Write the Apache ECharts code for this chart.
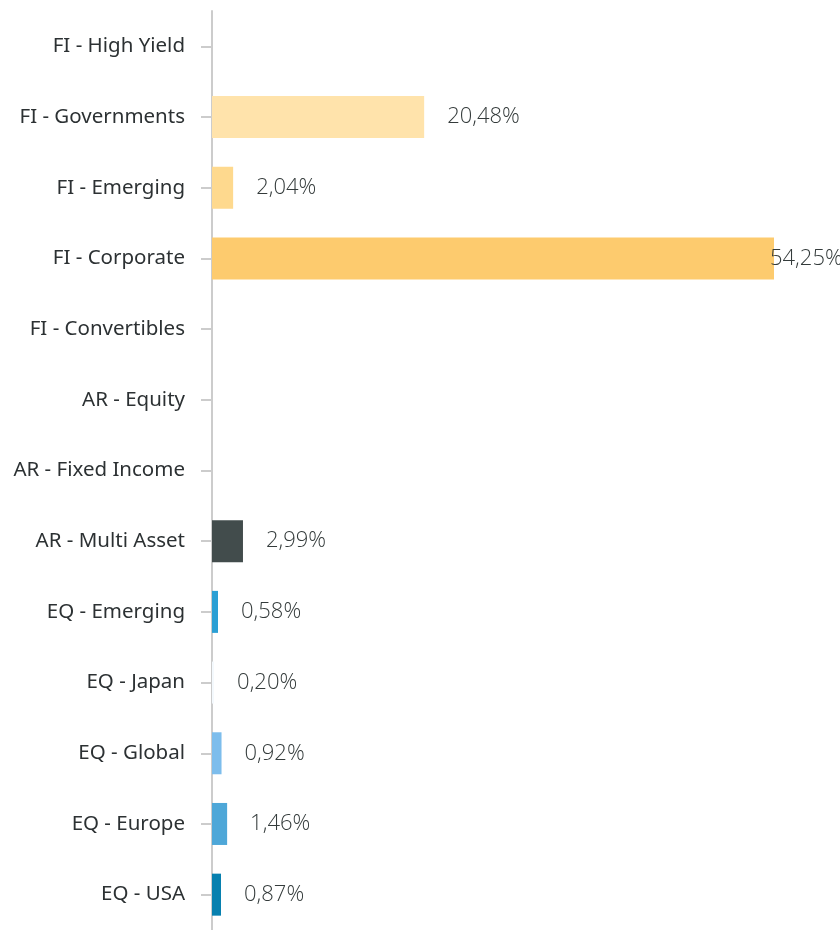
<!DOCTYPE html>
<html>
<head>
<meta charset="utf-8">
<script src="https://cdn.jsdelivr.net/npm/echarts@6/dist/echarts.min.js"></script>
<style>
  html, body { margin: 0; padding: 0; background: #ffffff; }
  #chart { width: 840px; height: 930px; }
</style>
</head>
<body>
<div id="chart"></div>
<script>
// Asset classes, listed top to bottom
var categories = [
  'FI - High Yield', 'FI - Governments', 'FI - Emerging', 'FI - Corporate',
  'FI - Convertibles', 'AR - Equity', 'AR - Fixed Income', 'AR - Multi Asset',
  'EQ - Emerging', 'EQ - Japan', 'EQ - Global', 'EQ - Europe', 'EQ - USA'
];
// Allocation in percent (null = no position)
var weights = [null, 20.48, 2.04, 54.25, null, null, null, 2.99, 0.58, 0.20, 0.92, 1.46, 0.87];
// Bar colour per asset class
var barColors = [
  '#ffe3ab', '#ffe3ab', '#fed98e', '#fdcb6e', '#fdcb6e', '#424c4c', '#424c4c',
  '#424c4c', '#2b9fd4', '#f4f9fd', '#7dbdec', '#4ea7d8', '#0780af'
];

function formatPct(v) {
  return v.toFixed(2).replace('.', ',') + '%';
}

var maxWeight = Math.max.apply(null, weights.filter(function (v) { return v != null; }));

var seriesData = weights.map(function (v, i) {
  var item = { value: v, itemStyle: { color: barColors[i] } };
  // The largest bar reaches the right edge: tuck its label in
  if (v === maxWeight) item.label = { distance: -4 };
  return item;
});

var chart = echarts.init(document.getElementById('chart'), null, { renderer: 'canvas' });
chart.setOption({
  animation: false,
  backgroundColor: '#ffffff',
  grid: { left: 212, right: 66, top: 11, bottom: 0, containLabel: false },
  xAxis: {
    type: 'value',
    min: 0,
    max: maxWeight,
    show: false
  },
  yAxis: {
    type: 'category',
    data: categories,
    inverse: true,
    axisLine: { show: true, lineStyle: { color: '#cccccc', width: 2 } },
    axisTick: { show: true, length: 11, alignWithLabel: true, lineStyle: { color: '#cccccc', width: 2 } },
    axisLabel: {
      margin: 27,
      color: '#2c3133',
      fontFamily: '"Noto Sans", "DejaVu Sans", sans-serif',
      fontSize: 20.5,
      padding: [7, 0, 0, 0]
    },
    splitLine: { show: false }
  },
  series: [{
    type: 'bar',
    data: seriesData,
    barWidth: 42,
    label: {
      show: true,
      position: 'right',
      distance: 23,
      color: '#343b3b',
      fontFamily: '"Open Sans", sans-serif',
      fontWeight: 300,
      fontSize: 22,
      padding: [3, 0, 0, 0],
      formatter: function (p) { return p.value == null ? '' : formatPct(p.value); }
    }
  }]
});
</script>
</body>
</html>
